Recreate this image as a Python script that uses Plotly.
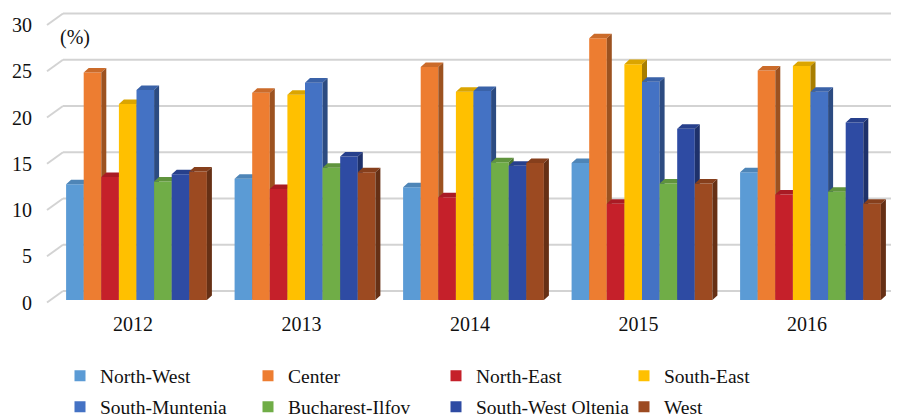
import plotly.graph_objects as go

# ---------------- data ----------------
years = ["2012", "2013", "2014", "2015", "2016"]
regions = ["North-West", "Center", "North-East", "South-East",
           "South-Muntenia", "Bucharest-Ilfov", "South-West Oltenia", "West"]
north_west = [12.5, 13.1, 12.2, 14.8, 13.8]
center = [24.6, 22.4, 25.2, 28.3, 24.8]
north_east = [13.3, 12.0, 11.1, 10.4, 11.4]
south_east = [21.2, 22.2, 22.5, 25.5, 25.3]
south_muntenia = [22.7, 23.5, 22.6, 23.6, 22.5]
bucharest_ilfov = [12.8, 14.3, 14.9, 12.6, 11.7]
south_west_oltenia = [13.6, 15.5, 14.5, 18.5, 19.2]
west = [13.9, 13.8, 14.8, 12.6, 10.4]
y_ticks = [0, 5, 10, 15, 20, 25, 30]

series = [north_west, center, north_east, south_east,
          south_muntenia, bucharest_ilfov, south_west_oltenia, west]
colors = ["#5B9BD5", "#ED7D31", "#C5202A", "#FFC000",
          "#4472C4", "#70AD47", "#2E4BA3", "#9C4A21"]

# ---------------- geometry (window pixels) ----------------
OFF = 8                      # default page body margin
WIN_W, WIN_H = 899, 420
W, H = WIN_W - OFF, WIN_H - OFF
PL, PR, PT, PB = 46, 897, 8, 310     # plot area in window pixels
ML, MR, MT, MB = PL - OFF, W - (PR - OFF), PT - OFF, H - (PB - OFF)
PLOT_W = PR - PL
PLOT_H = PB - PT
XPX = 168.5          # pixels per category
CAT0_PX = 133        # window x of first category
YPX = 9.25           # pixels per unit (%)
ZERO_PX = 302.5      # window y of value 0 (front plane)

xmin = -(CAT0_PX - PL) / XPX
xmax = xmin + PLOT_W / XPX
ymin = -(PB - ZERO_PX) / YPX
ymax = (ZERO_PX - PT) / YPX

BW = 17.6 / XPX            # bar width
GSHIFT = 3.5 / XPX         # group shift
BASE = 2.5 / YPX           # bar base above the front floor edge
DX, DY = 5 / XPX, 4.5 / YPX        # bar depth
WX0 = xmin + (47 - PL) / XPX       # wall front-left x
WDX, WDY = 16 / XPX, 11.5 / YPX    # wall depth


def shade(hexc, f):
    h = hexc.lstrip("#")
    r, g, b = (int(h[i:i + 2], 16) for i in (0, 2, 4))
    return "rgb(%d,%d,%d)" % (r * f, g * f, b * f)


def px_to_paper_y(py):
    return (PB - py) / PLOT_H


def px_to_paper_x(px):
    return (px - PL) / PLOT_W


fig = go.Figure()

for j, (vals, col) in enumerate(zip(series, colors)):
    fx, fy, tx, ty, sx, sy = [], [], [], [], [], []
    for i, v in enumerate(vals):
        x0 = i + GSHIFT + (j - 4) * BW
        x1 = x0 + BW
        y0 = BASE
        y1 = BASE + v
        fx += [x0, x1, x1, x0, x0, None]
        fy += [y0, y0, y1, y1, y0, None]
        tx += [x0, x1, x1 + DX, x0 + DX, x0, None]
        ty += [y1, y1, y1 + DY, y1 + DY, y1, None]
        sx += [x1, x1 + DX, x1 + DX, x1, x1, None]
        sy += [y0, y0 + DY, y1 + DY, y1, y0, None]
    for xs, ys, fc in ((fx, fy, col), (tx, ty, shade(col, 0.86)), (sx, sy, shade(col, 0.66))):
        fig.add_trace(go.Scatter(
            x=xs, y=ys, mode="lines", fill="toself", fillcolor=fc,
            line=dict(width=0, color=fc), hoverinfo="skip", showlegend=False))

# legend entries (two rows -> two legends)
for k, (name, col) in enumerate(zip(regions, colors)):
    fig.add_trace(go.Scatter(
        x=[None], y=[None], mode="markers", name=name,
        legend="legend" if k < 4 else "legend2",
        marker=dict(symbol="square", size=11, color=col, line=dict(width=0))))

# 3D-style gridlines (back wall)
shapes = []
for v in y_ticks:
    shapes.append(dict(type="line", xref="x", yref="y", layer="below",
                       x0=WX0, y0=v, x1=WX0 + WDX, y1=v + WDY,
                       line=dict(color="#d3d3d3", width=2)))
    shapes.append(dict(type="line", xref="x", yref="y", layer="below",
                       x0=WX0 + WDX, y0=v + WDY, x1=xmax, y1=v + WDY,
                       line=dict(color="#d3d3d3", width=2)))

FONT = "Liberation Serif"

legend_common = dict(orientation="h", xanchor="left", yanchor="middle",
                     entrywidth=143, entrywidthmode="pixels",
                     font=dict(size=19.5, family=FONT, color="#111111"),
                     bgcolor="rgba(0,0,0,0)", traceorder="normal")

fig.update_layout(
    width=W, height=H,
    margin=dict(l=ML, r=MR, t=MT, b=MB, autoexpand=False),
    paper_bgcolor="white", plot_bgcolor="white",
    font=dict(family=FONT, size=20, color="#111111"),
    shapes=shapes,
    xaxis=dict(range=[xmin, xmax], tickvals=list(range(len(years))), ticktext=years,
               showgrid=False, zeroline=False, showline=False,
               ticks="", tickfont=dict(size=20), fixedrange=True),
    yaxis=dict(range=[ymin, ymax], tickvals=y_ticks,
               showgrid=False, zeroline=False, showline=False,
               ticks="outside", ticklen=9, tickcolor="rgba(0,0,0,0)",
               tickfont=dict(size=20), fixedrange=True),
    legend=dict(legend_common, x=px_to_paper_x(60), y=px_to_paper_y(376)),
    legend2=dict(legend_common, x=px_to_paper_x(60), y=px_to_paper_y(407)),
    annotations=[dict(text="(%)", xref="paper", yref="paper",
                      x=px_to_paper_x(58), y=px_to_paper_y(38),
                      xanchor="left", yanchor="middle", showarrow=False,
                      font=dict(size=20))],
    showlegend=True,
)

fig.write_html("out.html")
